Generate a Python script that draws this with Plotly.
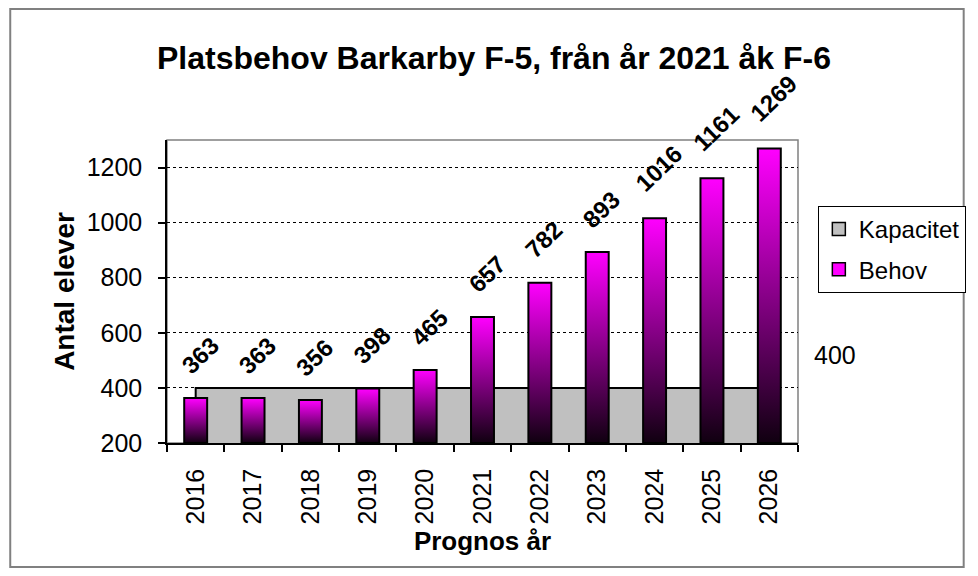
import plotly.graph_objects as go

years = [2016, 2017, 2018, 2019, 2020, 2021, 2022, 2023, 2024, 2025, 2026]
behov = [363, 363, 356, 398, 465, 657, 782, 893, 1016, 1161, 1269]
kapacitet = [400] * 11
title_text = "Platsbehov Barkarby F-5, från år 2021 åk F-6"
y_ticks = [200, 400, 600, 800, 1000, 1200]

Y_MIN, Y_MAX = 200, 1300
BAR_W = 0.4
FONT = "Liberation Sans, Arial, sans-serif"

# page offset (browser body margin)
OFF = 8
W, H = 978 - OFF, 576 - OFF

def fx(p):  # reference page x -> figure pixel x
    return p - OFF

def fy(p):
    return p - OFF

# plot area in reference page pixels
PL, PR, PT, PB = 167, 803, 140, 443
L, R, T, B = fx(PL), W - fx(PR), fy(PT), H - fy(PB)
pw, ph = W - L - R, H - T - B

def px_x(p):
    return (fx(p) - L) / pw

def px_y(p):
    return (H - B - fy(p)) / ph

fig = go.Figure()

# Capacity area (from axis floor up to capacity)
fig.add_trace(go.Scatter(
    x=[years[0]] + years + [years[-1]],
    y=[Y_MIN] + kapacitet + [Y_MIN],
    mode="lines", fill="toself", fillcolor="#C0C0C0",
    line=dict(color="black", width=2), showlegend=False, hoverinfo="skip",
))

# Bars with vertical gradient
for yr, v in zip(years, behov):
    fig.add_trace(go.Scatter(
        x=[yr - BAR_W / 2, yr - BAR_W / 2, yr + BAR_W / 2, yr + BAR_W / 2, yr - BAR_W / 2],
        y=[Y_MIN, v, v, Y_MIN, Y_MIN],
        mode="lines", fill="toself",
        fillgradient=dict(type="vertical", colorscale=[[0, "#100010"], [1, "#FF00FF"]]),
        line=dict(color="black", width=2), showlegend=False, name="Behov",
    ))

# Legend entries
fig.add_trace(go.Scatter(x=[None], y=[None], mode="markers", name="Kapacitet",
                         legendgroup="a",
                         marker=dict(symbol="square", size=13, color="#C0C0C0",
                                     line=dict(color="black", width=1.5))))
fig.add_trace(go.Scatter(x=[None], y=[None], mode="markers", name="Behov",
                         legendgroup="b",
                         marker=dict(symbol="square", size=13, color="#FF00FF",
                                     line=dict(color="black", width=1.5))))

annotations = []
for yr, v in zip(years, behov):
    s = str(v)
    annotations.append(dict(
        x=yr, y=v, text=f"<b>{s}</b>", showarrow=False, textangle=-44,
        xanchor="center", yanchor="middle", xshift=4, yshift=22 + 7 * len(s),
        font=dict(family=FONT, size=24, color="black"),
    ))
annotations.append(dict(
    x=years[-1], y=kapacitet[-1], text=str(kapacitet[-1]), showarrow=False,
    xanchor="center", yanchor="middle", xshift=66, yshift=33,
    font=dict(family=FONT, size=25, color="black"),
))

shapes = [
    dict(type="rect", xref="paper", yref="paper", x0=0, x1=1, y0=0, y1=1,
         line=dict(color="#808080", width=1.5), layer="below"),
    dict(type="rect", xref="paper", yref="paper",
         x0=px_x(9), x1=px_x(970), y0=px_y(567), y1=px_y(9),
         line=dict(color="#808080", width=2), layer="below"),
]

fig.update_layout(
    width=W, height=H,
    margin=dict(l=L, r=R, t=T, b=B),
    paper_bgcolor="white", plot_bgcolor="white",
    font=dict(family=FONT, color="black"),
    title=dict(text=f"<b>{title_text}</b>", x=fx(494) / W, xref="container",
               y=1 - fy(58) / H, yref="container", xanchor="center", yanchor="middle",
               font=dict(family=FONT, size=32, color="black")),
    xaxis=dict(range=[years[0] - 0.5, years[-1] + 0.5],
               tickmode="array", tickvals=years, ticktext=[str(y) for y in years],
               tickangle=-90, ticks="", showgrid=False, zeroline=False,
               showline=True, linecolor="black", linewidth=1.5,
               tickfont=dict(family=FONT, size=25, color="black"),
               ticklabelstandoff=14,
               minor=dict(tick0=years[0] - 0.5, dtick=1, ticks="outside",
                          ticklen=7, tickcolor="black", tickwidth=1.5, showgrid=False),
               title=dict(text="<b>Prognos år</b>", standoff=8,
                          font=dict(family=FONT, size=26, color="black"))),
    yaxis=dict(range=[Y_MIN, Y_MAX], tickmode="array", tickvals=y_ticks,
               ticks="outside", ticklen=7, tickcolor="black", tickwidth=1.5,
               showgrid=True, gridcolor="black", griddash="dot", gridwidth=1,
               zeroline=False, showline=True, linecolor="black", linewidth=1.5,
               tickfont=dict(family=FONT, size=25, color="black"),
               ticklabelstandoff=11,
               title=dict(text="<b>Antal elever</b>", standoff=4,
                          font=dict(family=FONT, size=28, color="black"))),
    legend=dict(x=px_x(823), y=px_y(206), xanchor="left", yanchor="top",
                bordercolor="black", borderwidth=1, bgcolor="white",
                font=dict(family=FONT, size=24, color="black"),
                traceorder="grouped", tracegroupgap=6, itemwidth=30),
    annotations=annotations,
    shapes=shapes,
)

fig.write_html("out.html")
